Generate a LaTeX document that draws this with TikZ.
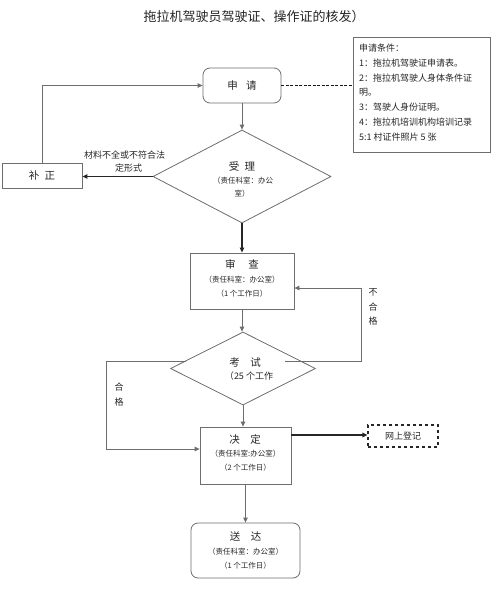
\documentclass[tikz,border=0pt]{standalone}
\usepackage{fontspec}
\setmainfont{Noto Sans CJK SC}
\usetikzlibrary{shapes.geometric,arrows.meta,calc}
\definecolor{lc}{HTML}{6E6E6E}
\definecolor{tc}{HTML}{262626}
\begin{document}
\begin{tikzpicture}[x=1pt,y=-1pt,
  every node/.style={text=tc,inner sep=0pt},
  line/.style={draw=lc,line width=0.8pt},
  thick line/.style={draw=black!85,line width=1.2pt},
  arr/.style={-{Triangle[length=5pt,width=4.5pt]}},
  frame/.style={draw=lc,line width=0.8pt,rectangle},
  rframe/.style={draw=lc,line width=0.8pt,rectangle,rounded corners=7pt},
  dia/.style={draw=lc,line width=0.8pt,diamond},
  big/.style={font=\fontsize{10.5}{12}\selectfont},
  small/.style={font=\fontsize{7.5}{9}\selectfont},
  cond/.style={font=\fontsize{9}{10}\selectfont,anchor=west},
  lab/.style={font=\fontsize{9}{10}\selectfont}]
\useasboundingbox[fill=white] (0,0) rectangle (500,610);

% title
\node[font=\fontsize{13}{15}\selectfont] (title) at (254,17) {拖拉机驾驶员驾驶证、操作证的核发）};

% conditions box
\node[frame,minimum width=137pt,minimum height=115pt] (condbox) at (421.5,94.5) {};
\node[cond] (c0) at (359,48) {申请条件：};
\node[cond] (c1) at (359,63) {1：拖拉机驾驶证申请表。};
\node[cond] (c2) at (359,78) {2：拖拉机驾驶人身体条件证};
\node[cond] (c2b) at (359,92.5) {明。};
\node[cond] (c3) at (359,107) {3：驾驶人身份证明。};
\node[cond] (c4) at (359,122) {4：拖拉机培训机构培训记录};
\node[cond] (c5) at (359,137) {5:1 村证件照片 5 张};

% main nodes
\node[rframe,minimum width=78pt,minimum height=35pt,big] (shen) at (242,85.5) {申\hspace{0.8em}请};
\node[dia,minimum width=178pt,minimum height=93pt] (shouli) at (242,176.5) {};
\node[big] (shoulit) at (242,166) {受\hspace{0.5em}理};
\node[small] (shoulis1) at (243,181) {（责任科室：办公};
\node[small] (shoulis2) at (242,194) {室）};

\node[frame,minimum width=80pt,minimum height=25pt,big] (buzheng) at (42,175.5) {补\hspace{0.5em}正};

\node[frame,minimum width=104pt,minimum height=56pt] (shencha) at (242,281) {};
\node[big] (shenchat) at (242,264) {审\hspace{1.2em}查};
\node[small] (shenchas1) at (242,280) {（责任科室：办公室）};
\node[small] (shenchas2) at (242,294) {（1 个工作日）};

\node[dia,minimum width=145pt,minimum height=73pt] (kaoshi) at (243,368.5) {};
\node[big] (kaoshit) at (245,362) {考\hspace{1em}试};
\node[lab] (kaoshis) at (249,376) {（25 个工作};

\node[frame,minimum width=91pt,minimum height=57pt] (jueding) at (245.5,455.5) {};
\node[big] (juedingt) at (245,439) {决\hspace{1em}定};
\node[small] (juedings1) at (245.5,454) {（责任科室:办公室）};
\node[small] (juedings2) at (245.5,468) {（2 个工作日）};

\node[draw=black!85,dashed,line width=1.2pt,minimum width=70pt,minimum height=22pt,lab] (wsdj) at (403,436) {网上登记};

\node[rframe,minimum width=109pt,minimum height=55pt] (songda) at (245.5,550.5) {};
\node[big] (songdat) at (245.5,537) {送\hspace{1em}达};
\node[small] (songdas1) at (245.5,552) {（责任科室：办公室）};
\node[small] (songdas2) at (245.5,566) {（1 个工作日）};

% labels
\node[lab,anchor=west] (l1) at (84,155) {材料不全或不符合法};
\node[lab,anchor=west] (l2) at (115,168.5) {定形式};
\node[lab] (bhg1) at (373,292) {不};
\node[lab] (bhg2) at (373,307) {合};
\node[lab] (bhg3) at (373,321) {格};
\node[lab] (hg1) at (119,387) {合};
\node[lab] (hg2) at (119,402) {格};

% helper coordinates
\coordinate (nf) at (285,361);
\coordinate (nfc) at (361,288);
\coordinate (hg) at (186,361);
\coordinate (hgc) at (106,449);
\coordinate (jdr) at (291,435);

% connectors
\draw[line width=1.4pt,dash pattern=on 3pt off 1.5pt,draw=black!90] (shen.east) -- (shen.east -| condbox.west);
\draw[line,arr] (shen.south) -- (shouli.north);
\draw[thick line,arr] (shouli.west) -- (shouli.west -| buzheng.east);
\draw[line,arr] (buzheng.north) |- (shen.west);
\draw[thick line,arr] (shouli.south) -- (shencha.north);
\draw[line,arr] (shencha.south) -- (shencha.south |- kaoshi.north);
\draw[line,arr] (nf) -| (nfc) -- (shencha.east |- nfc);
\draw[line,arr] (hg) -| (hgc) -- (jueding.west |- hgc);
\draw[line,arr] (kaoshi.south) -- (kaoshi.south |- jueding.north);
\draw[thick line,arr] (jdr) -- (wsdj.west |- jdr);
\draw[line,arr] (jueding.south) -- (songda.north);
\end{tikzpicture}
\end{document}
